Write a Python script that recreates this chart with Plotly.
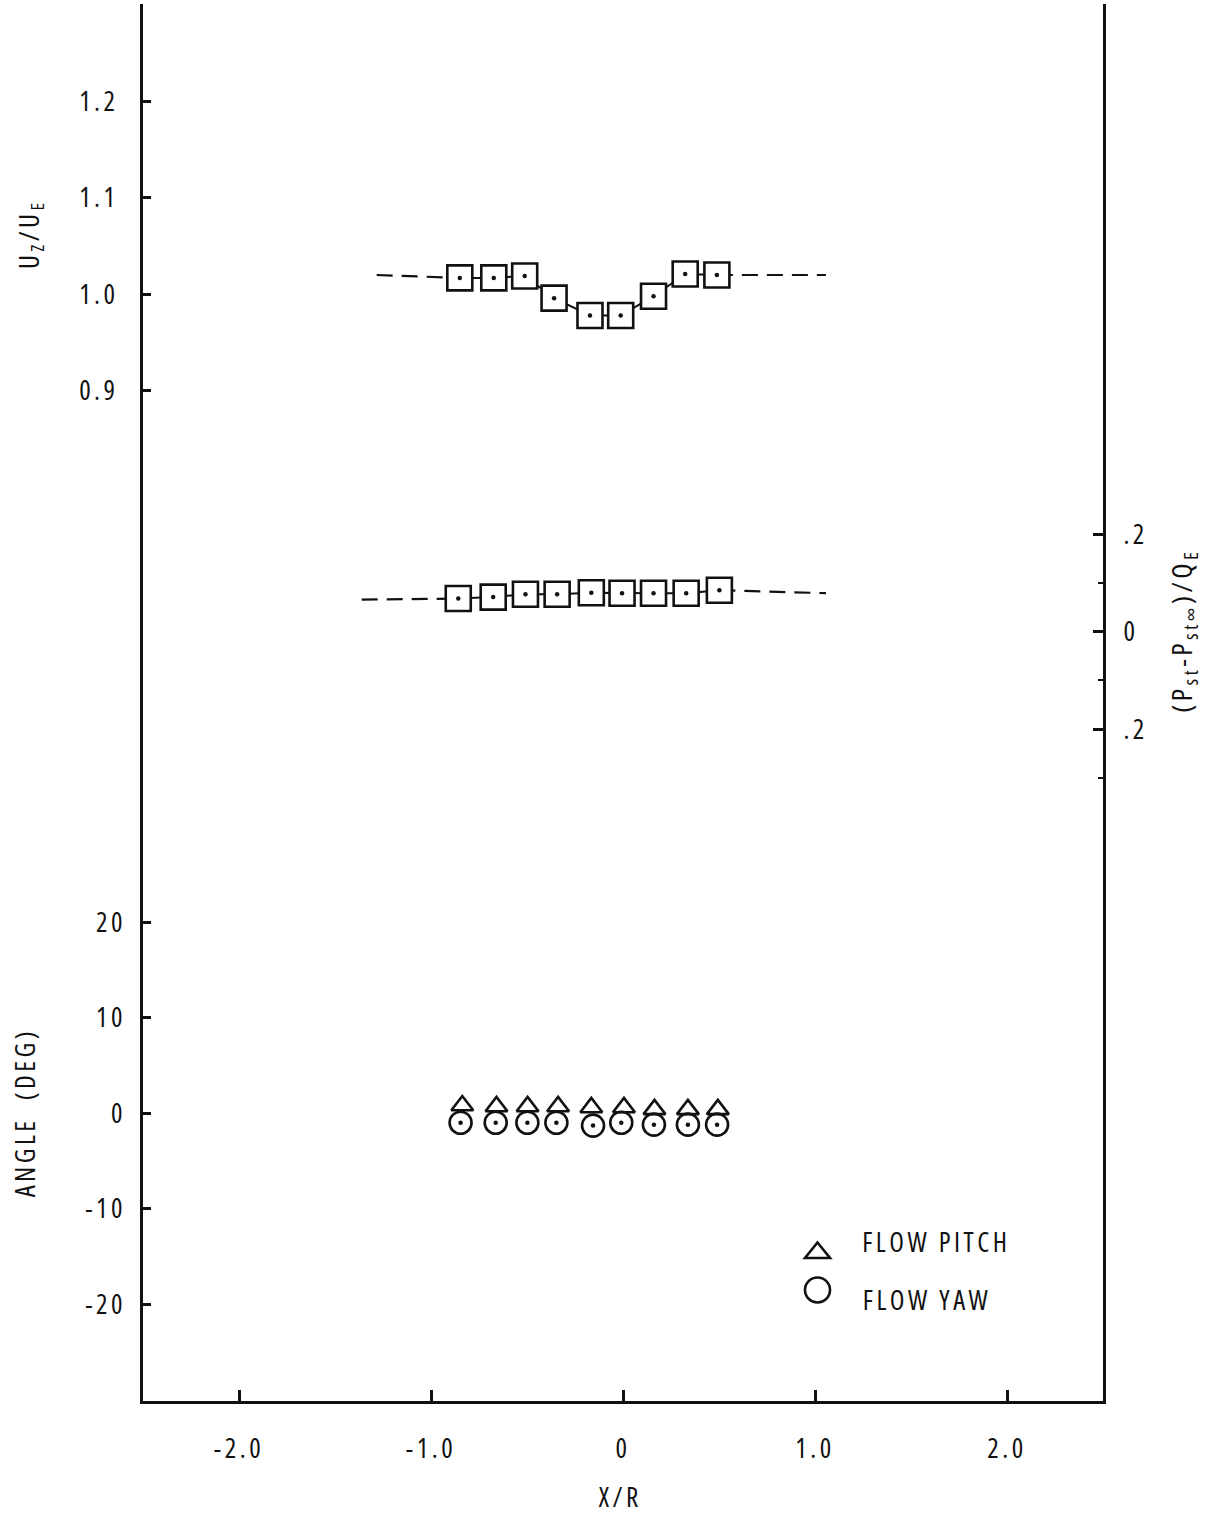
import plotly.graph_objects as go

# ---------------- data ----------------
# Axial velocity ratio U_Z/U_E
x_u = [-0.850, -0.673, -0.512, -0.359, -0.172, -0.012, 0.159, 0.324, 0.489]
u_ratio = [1.017, 1.017, 1.019, 0.996, 0.978, 0.978, 0.998, 1.021, 1.020]
u_ext_x = [-1.283, 1.057]          # ends of the dashed extensions
u_ext_level = [1.020, 1.020]

# Static pressure coefficient (P_st - P_st_inf)/Q_E
x_p = [-0.858, -0.676, -0.508, -0.343, -0.165, -0.005, 0.159, 0.329, 0.502]
p_coef = [0.068, 0.071, 0.077, 0.077, 0.080, 0.079, 0.079, 0.079, 0.085]
p_ext_x = [-1.361, 1.057]
p_ext_level = [0.066, 0.079]

# Flow angles (deg)
x_pitch = [-0.837, -0.659, -0.497, -0.338, -0.165, 0.005, 0.164, 0.338, 0.494]
pitch = [0.8, 0.7, 0.7, 0.7, 0.6, 0.6, 0.4, 0.4, 0.4]
x_yaw = [-0.846, -0.663, -0.498, -0.347, -0.156, -0.009, 0.161, 0.338, 0.490]
yaw = [-1.0, -1.0, -1.0, -1.0, -1.3, -1.0, -1.2, -1.2, -1.2]

x_ticks = [-2, -1, 0, 1, 2]
x_ticktext = ["-2.0", "-1.0", "0", "1.0", "2.0"]
u_ticks = [0.9, 1.0, 1.1, 1.2, 1.3]
u_ticktext = ["0.9", "1.0", "1.1", "1.2", ""]
ang_ticks = [-20, -10, 0, 10, 20]
ang_ticktext = ["-20", "-10", "0", "10", "20"]
p_ticks = [0.2, 0.0, -0.2]
p_ticktext = [".2", "0", ".2"]
p_minor = [0.1, -0.1, -0.3]

FONT = "Open Sans, Noto Sans, sans-serif"
BLACK = "#111111"


def fnt(size):
    return dict(family=FONT, size=size, color=BLACK, weight=500)


fig = go.Figure()

# ---- U_Z/U_E ----
fig.add_trace(go.Scatter(x=[u_ext_x[0], x_u[0]], y=[u_ext_level[0], u_ratio[0]], mode="lines",
                         line=dict(color=BLACK, width=2.2, dash="16px,9px"), yaxis="y", showlegend=False))
fig.add_trace(go.Scatter(x=[x_u[-1], u_ext_x[1]], y=[u_ratio[-1], u_ext_level[1]], mode="lines",
                         line=dict(color=BLACK, width=2.2, dash="16px,9px"), yaxis="y", showlegend=False))
fig.add_trace(go.Scatter(x=x_u, y=u_ratio, mode="lines+markers",
                         line=dict(color=BLACK, width=2),
                         marker=dict(symbol="square", size=25, color="white",
                                     line=dict(color=BLACK, width=2.6)),
                         yaxis="y", showlegend=False))
fig.add_trace(go.Scatter(x=x_u, y=u_ratio, mode="markers",
                         marker=dict(symbol="circle", size=4.5, color=BLACK),
                         yaxis="y", showlegend=False))

# ---- pressure ----
fig.add_trace(go.Scatter(x=[p_ext_x[0], x_p[0]], y=[p_ext_level[0], p_coef[0]], mode="lines",
                         line=dict(color=BLACK, width=2.2, dash="16px,9px"), yaxis="y3", showlegend=False))
fig.add_trace(go.Scatter(x=[x_p[-1], p_ext_x[1]], y=[p_coef[-1], p_ext_level[1]], mode="lines",
                         line=dict(color=BLACK, width=2.2, dash="16px,9px"), yaxis="y3", showlegend=False))
fig.add_trace(go.Scatter(x=x_p, y=p_coef, mode="lines+markers",
                         line=dict(color=BLACK, width=2),
                         marker=dict(symbol="square", size=25, color="white",
                                     line=dict(color=BLACK, width=2.6)),
                         yaxis="y3", showlegend=False))
fig.add_trace(go.Scatter(x=x_p, y=p_coef, mode="markers",
                         marker=dict(symbol="circle", size=4.5, color=BLACK),
                         yaxis="y3", showlegend=False))

# ---- angles ----
fig.add_trace(go.Scatter(x=x_yaw, y=yaw, mode="markers",
                         marker=dict(symbol="circle-open", size=22, color=BLACK,
                                     line=dict(color=BLACK, width=2.6)),
                         yaxis="y2", showlegend=False))
fig.add_trace(go.Scatter(x=x_yaw, y=yaw, mode="markers",
                         marker=dict(symbol="circle", size=4.5, color=BLACK),
                         yaxis="y2", showlegend=False))
fig.add_trace(go.Scatter(x=x_pitch, y=pitch, mode="markers",
                         marker=dict(symbol="triangle-up-open", size=19, color=BLACK,
                                     line=dict(color=BLACK, width=2.6)),
                         yaxis="y2", showlegend=False))

axis_common = dict(showgrid=False, zeroline=False, color=BLACK, tickfont=fnt(27))

fig.update_layout(
    width=1216, height=1516,
    margin=dict(l=143, r=113, t=4, b=115),
    paper_bgcolor="white", plot_bgcolor="white",
    font=fnt(27),
    xaxis=dict(range=[-2.5, 2.5], tickvals=x_ticks, ticktext=x_ticktext,
               ticks="inside", ticklen=11, tickwidth=2.5, tickcolor=BLACK,
               showline=True, linewidth=3, linecolor=BLACK, mirror=False,
               ticklabelstandoff=22, **axis_common),
    yaxis=dict(range=[-0.1476, 1.3010], tickvals=u_ticks, ticktext=u_ticktext,
               ticks="inside", ticklen=8, tickwidth=3, tickcolor=BLACK,
               showline=True, linewidth=3, linecolor=BLACK,
               ticklabelstandoff=16, **axis_common),
    yaxis2=dict(range=[-30.15, 116.19], tickvals=ang_ticks, ticktext=ang_ticktext,
                overlaying="y", side="left", anchor="x",
                ticks="inside", ticklen=8, tickwidth=3, tickcolor=BLACK,
                showline=False, ticklabelstandoff=16, **axis_common),
    yaxis3=dict(range=[-1.578, 1.2876], tickvals=p_ticks, ticktext=p_ticktext,
                overlaying="y", side="right", anchor="x",
                ticks="inside", ticklen=10, tickwidth=3, tickcolor=BLACK,
                minor=dict(tickvals=p_minor, ticks="inside", ticklen=5, tickwidth=2, tickcolor=BLACK),
                showline=True, linewidth=3, linecolor=BLACK,
                ticklabelstandoff=12, **axis_common),
)

fig.add_annotation(text="U<sub>Z</sub>/U<sub>E</sub>", textangle=-90, xref="paper", yref="paper",
                   x=-0.1177, y=0.835, xanchor="center", yanchor="middle", showarrow=False, font=fnt(27))
fig.add_annotation(text="ANGLE  (DEG)", textangle=-90, xref="paper", yref="paper",
                   x=-0.123, y=0.2062, xanchor="center", yanchor="middle", showarrow=False, font=fnt(27))
fig.add_annotation(text="(P<sub>st</sub>-P<sub>st\u221e</sub>)/Q<sub>E</sub>", textangle=-90,
                   xref="paper", yref="paper", x=1.0833, y=0.5519, xanchor="center", yanchor="middle",
                   showarrow=False, font=fnt(28))
fig.add_annotation(text="X/R", xref="paper", yref="paper", x=0.4969, y=-0.0687,
                   xanchor="center", yanchor="middle", showarrow=False, font=fnt(27))

# ---- legend (symbols drawn as pixel-sized shapes, text as annotations) ----
leg_x = 0.7026
fig.add_shape(type="path", xref="paper", yref="paper", xsizemode="pixel", ysizemode="pixel",
              xanchor=leg_x, yanchor=0.1074, path="M -12.5,-7 L 12.5,-7 L 0,8.5 Z",
              line=dict(color=BLACK, width=2.6))
fig.add_shape(type="circle", xref="paper", yref="paper", xsizemode="pixel", ysizemode="pixel",
              xanchor=leg_x, yanchor=0.0795, x0=-12.5, x1=12.5, y0=-12.5, y1=12.5,
              line=dict(color=BLACK, width=2.6))
fig.add_annotation(text="FLOW PITCH", xref="paper", yref="paper", x=0.7425, y=0.1145,
                   xanchor="left", yanchor="middle", showarrow=False, font=fnt(27))
fig.add_annotation(text="FLOW YAW", xref="paper", yref="paper", x=0.7425, y=0.0723,
                   xanchor="left", yanchor="middle", showarrow=False, font=fnt(27))

# condensed, letter-spaced typewriter-like lettering; re-plot so text is measured with it
post = (
    "document.body.style.margin='0';document.body.style.padding='0';"
    "var st=document.createElement('style');"
    "st.textContent='svg text{font-stretch:75% !important;letter-spacing:3.5px !important;}';"
    "document.head.appendChild(st);"
    "var gd=document.getElementById('{plot_id}');"
    "var lay=JSON.parse(JSON.stringify(gd.layout).split('Open Sans, Noto Sans').join('Open Sans,Noto Sans'));"
    "Plotly.newPlot(gd, gd.data, lay, {displayModeBar:false, responsive:false});"
)
fig.write_html("out.html", post_script=post, config={"displayModeBar": False})
